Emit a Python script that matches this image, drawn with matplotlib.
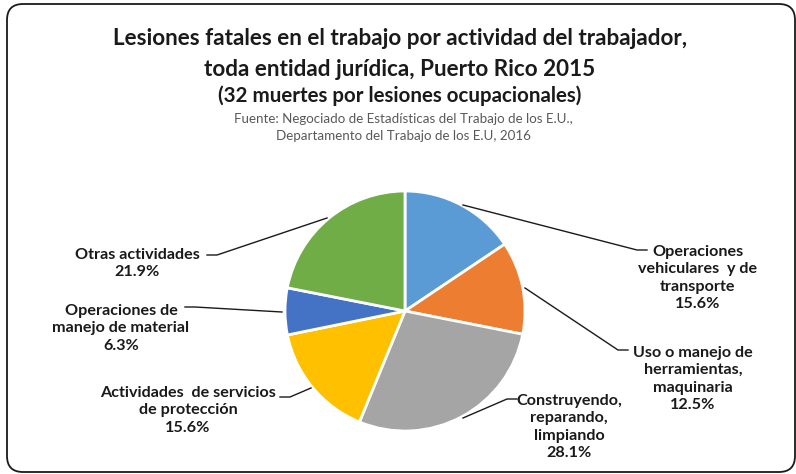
import matplotlib
matplotlib.use("Agg")
import matplotlib.pyplot as plt
from matplotlib.patches import FancyBboxPatch

# ---- data ----
categories = [
    "Operaciones\nvehiculares  y de\ntransporte",
    "Uso o manejo de\nherramientas,\nmaquinaria",
    "Construyendo,\nreparando,\nlimpiando",
    "Actividades  de servicios\nde protección",
    "Operaciones de\nmanejo de material",
    "Otras actividades",
]
percent = [15.6, 12.5, 28.1, 15.6, 6.3, 21.9]
colors = ["#5B9BD5", "#ED7D31", "#A5A5A5", "#FFC000", "#4472C4", "#70AD47"]

title_lines = [
    "Lesiones fatales en el trabajo por actividad del trabajador,",
    "toda entidad jurídica, Puerto Rico 2015",
    "(32 muertes por lesiones ocupacionales)",
]
source_lines = [
    "Fuente: Negociado de Estadísticas del Trabajo de los E.U.,",
    "Departamento del Trabajo de los E.U, 2016",
]

W, H = 796, 474
fig = plt.figure(figsize=(W / 100, H / 100), dpi=100)
ax = fig.add_axes([0, 0, 1, 1])

def Y(ypx):
    return H - ypx

FONT = "Lato"

# pie
cx, cy, r = 405, Y(311), 120
ax.pie(percent, colors=colors, startangle=90, counterclock=False,
       center=(cx, cy), radius=r, frame=True,
       wedgeprops=dict(edgecolor="white", linewidth=2))
ax.set_xlim(0, W)
ax.set_ylim(0, H)
ax.set_aspect("auto")
ax.axis("off")

# frame
frame = FancyBboxPatch((7, Y(472)), 795 - 7, 472 - 4,
                       boxstyle="round,pad=0,rounding_size=16",
                       fc="none", ec="#1a1a1a", lw=1.3, clip_on=False)
ax.add_patch(frame)

# titles
ax.text(400, Y(38), title_lines[0], ha="center", va="center",
        fontsize=16.2, fontweight="bold", family=FONT, color="#1a1a1a")
ax.text(400, Y(69), title_lines[1], ha="center", va="center",
        fontsize=16.2, fontweight="bold", family=FONT, color="#1a1a1a")
ax.text(400, Y(96), title_lines[2], ha="center", va="center",
        fontsize=14.8, fontweight="bold", family=FONT, color="#1a1a1a")
ax.text(403, Y(119), source_lines[0], ha="center", va="center",
        fontsize=9.6, family=FONT, color="#595959")
ax.text(403, Y(136), source_lines[1], ha="center", va="center",
        fontsize=9.6, family=FONT, color="#595959")

# data labels: (text center x, first line y) and leader path in px
label_pos = [
    (698, 246), (693, 347), (569, 395), (188, 389), (121, 307), (137, 253),
]
leaders = [
    [(463, 205), (637, 250), (647, 250)],
    [(525, 288), (618, 350), (628, 350)],
    [(463, 418), (507, 399), (517, 399)],
    [(311, 388), (290, 397), (280, 397)],
    [(282, 312), (195, 307), (185, 307)],
    [(327, 218), (217, 255), (207, 255)],
]
for cat, p, (tx, ty), path in zip(categories, percent, label_pos, leaders):
    txt = f"{cat}\n{p:.1f}%"
    nlines = txt.count("\n") + 1
    step = 21.3
    ymid = ty + step * (nlines - 1) / 2
    ax.text(tx, Y(ymid), txt, ha="center", va="center", multialignment="center",
            fontsize=11.6, fontweight="bold", family=FONT, color="#1a1a1a",
            linespacing=1.31)
    xs = [q[0] for q in path]
    ys = [Y(q[1]) for q in path]
    ax.plot(xs, ys, color="#1a1a1a", lw=1.0)

fig.savefig("out.png", dpi=100)
